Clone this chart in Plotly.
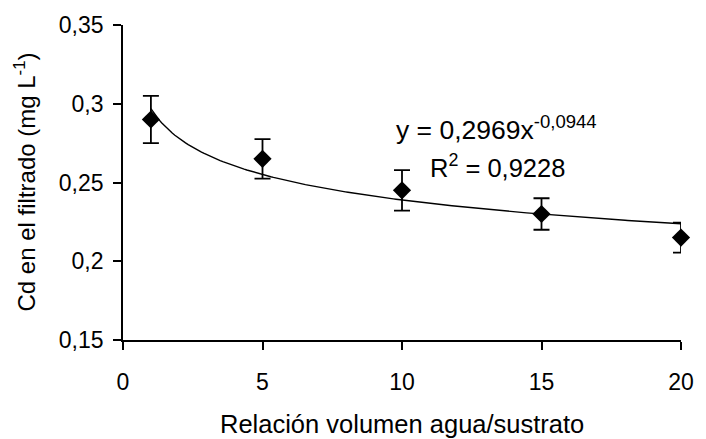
import numpy as np
import plotly.graph_objects as go

# Data
ratio = [1, 5, 10, 15, 20]
cd_mean = [0.290, 0.265, 0.245, 0.230, 0.215]
cd_err = [0.015, 0.0125, 0.0128, 0.010, 0.0095]

# Power trend line shown on the chart: y = a * x^b
trend_a = 0.2969
trend_b = -0.0944
trend_x = np.linspace(1, 20, 200)
trend_y = trend_a * trend_x ** trend_b

x_ticks = [0, 5, 10, 15, 20]
y_ticks = [0.15, 0.2, 0.25, 0.3, 0.35]
y_ticktext = ["0,15", "0,2", "0,25", "0,3", "0,35"]

FONT = "Liberation Sans, Arial, sans-serif"
FS = 23

fig = go.Figure()
fig.add_trace(go.Scatter(
    x=trend_x, y=trend_y, mode="lines",
    line=dict(color="black", width=1.4),
    hoverinfo="skip", showlegend=False, cliponaxis=False))
fig.add_trace(go.Scatter(
    x=ratio, y=cd_mean, mode="markers",
    marker=dict(symbol="diamond", size=14, color="black"),
    error_y=dict(type="data", array=cd_err, visible=True,
                 color="black", thickness=1.8, width=8),
    showlegend=False, cliponaxis=False))

fig.update_layout(
    width=706, height=439,
    margin=dict(l=123, r=17, t=22, b=99),
    paper_bgcolor="white", plot_bgcolor="white",
    font=dict(family=FONT, size=FS, color="black"),
    separators=",.",
    xaxis=dict(range=[0, 20], tickvals=x_ticks, showgrid=False, zeroline=False,
               showline=True, linecolor="black", linewidth=1.8,
               ticks="outside", ticklen=8, tickwidth=1.8, tickcolor="black",
               ticklabelstandoff=12,
               tickfont=dict(family=FONT, size=FS), fixedrange=True),
    yaxis=dict(range=[0.15, 0.35], tickvals=y_ticks, ticktext=y_ticktext,
               showgrid=False, zeroline=False,
               showline=True, linecolor="black", linewidth=1.8,
               ticks="outside", ticklen=8, tickwidth=1.8, tickcolor="black",
               ticklabelstandoff=5,
               tickfont=dict(family=FONT, size=FS), fixedrange=True),
    annotations=[
        dict(text="Relación volumen agua/sustrato", xref="paper", yref="paper",
             x=0.5, y=0, yshift=-84, xanchor="center", yanchor="middle",
             showarrow=False, font=dict(family=FONT, size=25.5)),
        dict(text="Cd en el filtrado (mg L<sup>-1</sup>)", xref="paper", yref="paper",
             x=0, y=0.5, xshift=-99, xanchor="center", yanchor="middle",
             textangle=-90, showarrow=False, font=dict(family=FONT, size=24)),
        dict(text="y = 0,2969x<sup>-0,0944</sup>", xref="x", yref="y",
             x=9.72, y=0.2846, xanchor="left", yanchor="middle",
             showarrow=False, font=dict(family=FONT, size=26.5)),
        dict(text="R<sup>2</sup> = 0,9228", xref="x", yref="y",
             x=10.92, y=0.2607, xanchor="left", yanchor="middle",
             showarrow=False, font=dict(family=FONT, size=25.5)),
    ],
)

fig.write_html("out.html")
